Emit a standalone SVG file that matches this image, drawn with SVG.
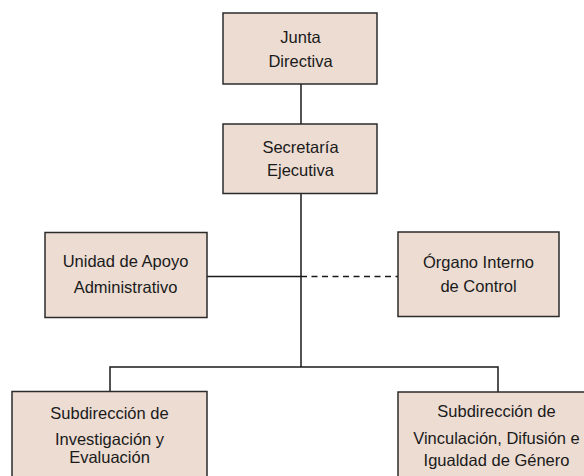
<svg xmlns="http://www.w3.org/2000/svg" width="584" height="476" viewBox="0 0 584 476">
<style>
.box{fill:#ecdcd2;stroke:#2b2b2b;stroke-width:1.5}
.lbl{font-family:"Liberation Sans",Arial,sans-serif;font-size:16.5px;fill:#1a1a1a;text-anchor:middle}
.ln{stroke:#1a1a1a;stroke-width:1.5;fill:none}
.dash{stroke-dasharray:6,4.5}
</style>
<rect width="584" height="476" fill="#ffffff"/>
<g id="connectors">
<line class="ln" x1="301" y1="84" x2="301" y2="124"/>
<line class="ln" x1="301" y1="193" x2="301" y2="367"/>
<line class="ln" x1="207" y1="276.5" x2="301" y2="276.5"/>
<line class="ln dash" x1="301" y1="276.5" x2="398" y2="276.5"/>
<polyline class="ln" points="110,392 110,367 498,367 498,392"/>
</g>
<g id="junta">
<rect class="box" x="223" y="13" width="154" height="71"/>
<text class="lbl" x="300.5" y="42.7">Junta</text>
<text class="lbl" x="300.5" y="66.7">Directiva</text>
</g>
<g id="secretaria">
<rect class="box" x="223" y="124" width="154" height="69.5"/>
<text class="lbl" x="300.5" y="152.7">Secretaría</text>
<text class="lbl" x="300.5" y="175.5">Ejecutiva</text>
</g>
<g id="unidad">
<rect class="box" x="45" y="232.5" width="162" height="85"/>
<text class="lbl" x="125.5" y="267.3">Unidad de Apoyo</text>
<text class="lbl" x="125.5" y="292.7">Administrativo</text>
</g>
<g id="organo">
<rect class="box" x="398" y="232" width="161" height="84.5"/>
<text class="lbl" x="478.5" y="267.7">Órgano Interno</text>
<text class="lbl" x="478.5" y="291.7">de Control</text>
</g>
<g id="sub-investigacion">
<rect class="box" x="12" y="391.5" width="195" height="100"/>
<text class="lbl" x="109.5" y="419">Subdirección de</text>
<text class="lbl" x="109.5" y="444.5">Investigación y</text>
<text class="lbl" x="109.5" y="463">Evaluación</text>
</g>
<g id="sub-vinculacion">
<rect class="box" x="398" y="392" width="195" height="100"/>
<text class="lbl" x="496.5" y="416.7">Subdirección de</text>
<text class="lbl" x="496.5" y="444">Vinculación, Difusión e</text>
<text class="lbl" x="496.5" y="466">Igualdad de Género</text>
</g>
</svg>
